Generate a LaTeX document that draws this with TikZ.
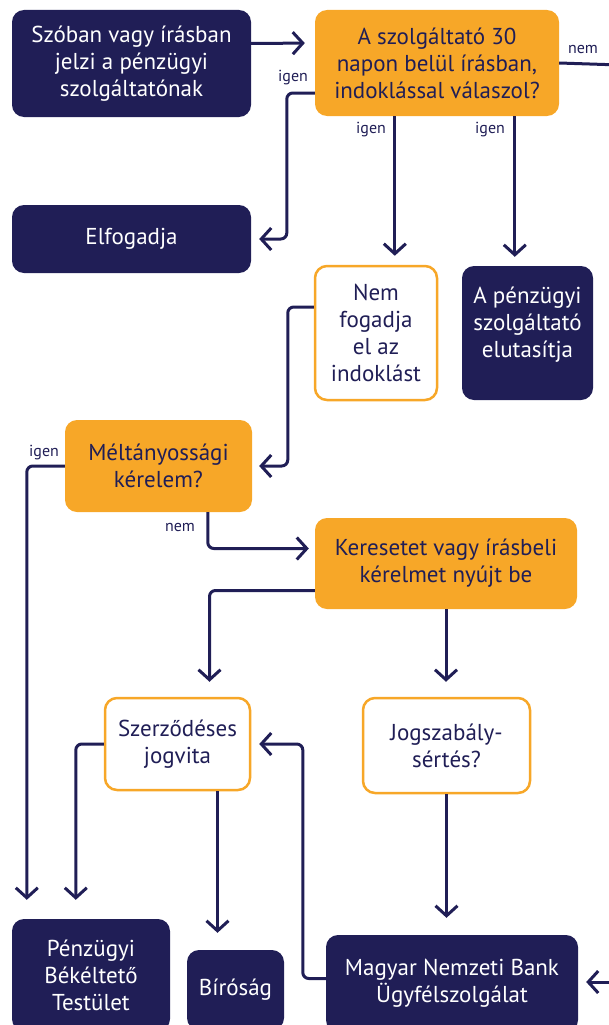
\documentclass[tikz,border=0pt]{standalone}
\usepackage{fontspec}
\setmainfont{PT Sans}
\usetikzlibrary{arrows.meta}
\definecolor{sotet}{RGB}{32,30,86}
\definecolor{narancs}{RGB}{247,167,40}
\tikzset{
  box/.style={rounded corners=12pt,inner sep=0pt,align=center,font=\fontsize{23}{27}\selectfont},
  darkbox/.style={box,fill=sotet,text=white},
  orangebox/.style={box,fill=narancs,text=sotet},
  openbox/.style={box,draw=narancs,line width=2.5pt,fill=white,text=sotet},
  conn/.style={draw=sotet,line width=3pt,rounded corners=6pt},
  arr/.style={conn,-{Straight Barb[length=10pt,width=22pt]}},
  lbl/.style={text=sotet,font=\fontsize{16}{18}\selectfont,inner sep=0pt}
}
\begin{document}
\begin{tikzpicture}[x=1pt,y=-1pt]
	    \useasboundingbox (0,0) rectangle (609,1025);
	    \clip (0,0) rectangle (609,1025);
	    \node[darkbox,minimum width=239pt,minimum height=107pt] (jelzi) at (131.5,63.5) {Szóban vagy írásban\\jelzi a pénzügyi\\szolgáltatónak};
	    \node[orangebox,minimum width=244pt,minimum height=106pt] (valasz) at (437,63) {A szolgáltató 30\\napon belül írásban,\\indoklással válaszol?};
	    \node[darkbox,minimum width=239pt,minimum height=68pt] (elfogad) at (131.5,239) {Elfogadja};
	    \node[openbox,minimum width=122pt,minimum height=134pt] (nemfog) at (376,333) {Nem\\fogadja\\el az\\indoklást};
	    \node[darkbox,minimum width=131pt,minimum height=134pt] (elutasit) at (527.5,333) {A pénzügyi\\szolgáltató\\elutasítja\\[-6pt]\mbox{}};
	    \node[orangebox,minimum width=187pt,minimum height=92pt] (meltany) at (158.5,466) {Méltányossági\\kérelem?};
	    \node[orangebox,minimum width=262pt,minimum height=91pt] (kereset) at (446,563.5) {Keresetet vagy írásbeli\\kérelmet nyújt be};
	    \node[openbox,minimum width=145pt,minimum height=92pt] (szerz) at (177.5,744) {Szerződéses\\jogvita};
	    \node[openbox,minimum width=167pt,minimum height=95pt] (jogsz) at (446.5,745.5) {Jogszabály-\\sértés?};
	    \node[darkbox,minimum width=158pt,minimum height=112pt] (pbt) at (91,975) {Pénzügyi\\Békéltető\\Testület};
	    \node[darkbox,minimum width=97pt,minimum height=80pt] (birosag) at (235.5,990) {Bíróság};
	    \node[darkbox,minimum width=252pt,minimum height=97pt] (mnb) at (452,983.5) {Magyar Nemzeti Bank\\Ügyfélszolgálat};
	    \coordinate (jobbfent) at (620,65);
	    \coordinate (jobblent) at (620,982);
	    \draw[arr,shorten >=10pt] ([yshift=20pt]jelzi.east) -- ([yshift=20pt]valasz.west);
	    \draw[conn] (valasz.east) -- (jobbfent);
	    \draw[arr,shorten >=8pt] ([yshift=-30pt]valasz.west) -- ++(-28,0) |- (elfogad.east);
	    \draw[arr,shorten >=9pt] ([xshift=80pt]valasz.south west) -- ([xshift=80pt]valasz.south west |- nemfog.north);
	    \draw[arr,shorten >=9pt] ([xshift=200pt]valasz.south west) -- ([xshift=200pt]valasz.south west |- elutasit.north);
	    \draw[arr,shorten >=7pt] ([yshift=26pt]nemfog.west) -- ++(-26,0) |- (meltany.east);
	    \draw[arr,shorten >=19pt] (meltany.west) -| ([xshift=15pt]pbt.north west);
	    \draw[arr,shorten >=6pt] ([xshift=143pt]meltany.south west) |- ([yshift=15pt]kereset.west);
	    \draw[arr,shorten >=15pt] ([yshift=-27pt]kereset.west) -| ([xshift=32pt]szerz.north);
	    \draw[arr,shorten >=15pt] (kereset.south) -- (kereset.south |- jogsz.north);
	    \draw[arr,shorten >=19pt] (szerz.west) -| ([xshift=64pt]pbt.north west);
	    \draw[arr,shorten >=17pt] ([xshift=40pt]szerz.south) -- ([xshift=40pt]szerz.south |- birosag.north);
	    \draw[arr,shorten >=17pt] (jogsz.south) -- (jogsz.south |- mnb.north);
	    \draw[arr,shorten >=8pt] ([yshift=5pt]mnb.west) -- ++(-23,0) |- (szerz.east);
	    \draw[arr,shorten >=8pt] (jobblent) -- (mnb.east |- jobblent);
	    \node[lbl] (nem1) at (583,50) {nem};
	    \node[lbl] (igen1) at (293,78) {igen};
	    \node[lbl] (igen2) at (371,130) {igen};
	    \node[lbl] (igen3) at (490,130) {igen};
	    \node[lbl] (igen4) at (44,453) {igen};
	    \node[lbl] (nem2) at (180,527) {nem};
	\end{tikzpicture}
\end{document}
